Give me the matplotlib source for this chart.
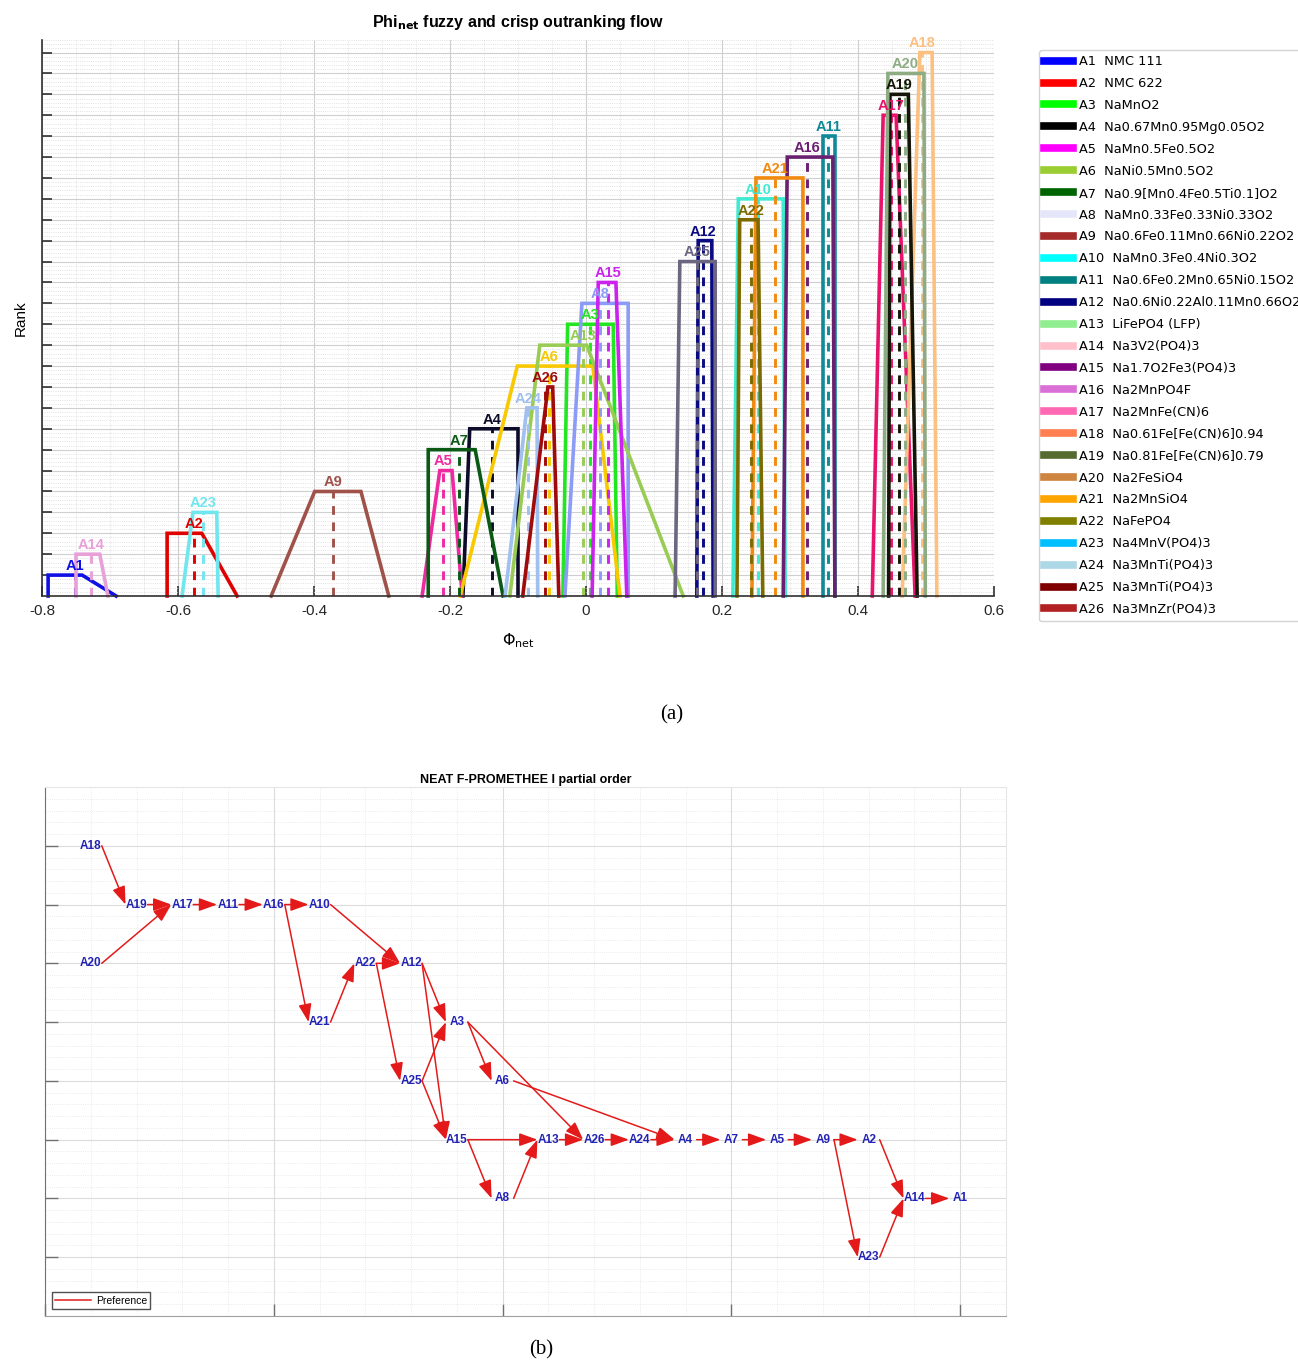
import numpy as np
import matplotlib
matplotlib.use('Agg')
import matplotlib.pyplot as plt
from matplotlib.lines import Line2D
from matplotlib.ticker import MultipleLocator

plt.rcParams['font.family'] = ['Liberation Sans', 'DejaVu Sans']

# ---- alternatives (cathode materials) ----
alternatives = ['A1', 'A2', 'A3', 'A4', 'A5', 'A6', 'A7', 'A8', 'A9', 'A10', 'A11', 'A12', 'A13',
                'A14', 'A15', 'A16', 'A17', 'A18', 'A19', 'A20', 'A21', 'A22', 'A23', 'A24', 'A25', 'A26']
materials = ['NMC 111', 'NMC 622', 'NaMnO2', 'Na0.67Mn0.95Mg0.05O2', 'NaMn0.5Fe0.5O2',
             'NaNi0.5Mn0.5O2', 'Na0.9[Mn0.4Fe0.5Ti0.1]O2', 'NaMn0.33Fe0.33Ni0.33O2',
             'Na0.6Fe0.11Mn0.66Ni0.22O2', 'NaMn0.3Fe0.4Ni0.3O2', 'Na0.6Fe0.2Mn0.65Ni0.15O2',
             'Na0.6Ni0.22Al0.11Mn0.66O2', 'LiFePO4 (LFP)', 'Na3V2(PO4)3', 'Na1.7O2Fe3(PO4)3',
             'Na2MnPO4F', 'Na2MnFe(CN)6', 'Na0.61Fe[Fe(CN)6]0.94', 'Na0.81Fe[Fe(CN)6]0.79',
             'Na2FeSiO4', 'Na2MnSiO4', 'NaFePO4', 'Na4MnV(PO4)3', 'Na3MnTi(PO4)3',
             'Na3MnTi(PO4)3', 'Na3MnZr(PO4)3']

# fuzzy net flow as trapezoid (a, b, c, d), crisp net flow, and rank
phi_a = [-0.791, -0.616, -0.034, -0.181, -0.241, -0.185, -0.232, -0.031, -0.463, 0.216, 0.349, 0.163, -0.112,
         -0.750, 0.009, 0.290, 0.421, 0.465, 0.445, 0.437, 0.244, 0.222, -0.594, -0.119, 0.131, -0.093]
phi_b = [-0.791, -0.616, -0.027, -0.171, -0.215, -0.101, -0.232, -0.006, -0.399, 0.224, 0.349, 0.165, -0.068,
         -0.750, 0.018, 0.296, 0.437, 0.491, 0.447, 0.444, 0.250, 0.226, -0.578, -0.087, 0.138, -0.056]
phi_c = [-0.741, -0.565, 0.040, -0.100, -0.197, 0.010, -0.163, 0.062, -0.331, 0.290, 0.366, 0.185, 0.001,
         -0.715, 0.044, 0.363, 0.456, 0.509, 0.474, 0.497, 0.319, 0.253, -0.543, -0.072, 0.190, -0.049]
phi_d = [-0.691, -0.513, 0.046, -0.100, -0.182, 0.050, -0.122, 0.062, -0.290, 0.293, 0.366, 0.187, 0.143,
         -0.703, 0.060, 0.366, 0.484, 0.516, 0.487, 0.499, 0.319, 0.260, -0.541, -0.071, 0.190, -0.040]
phi_crisp = [-0.751, -0.576, 0.006, -0.138, -0.210, -0.054, -0.187, 0.020, -0.372, 0.253, 0.356, 0.172, -0.004,
             -0.728, 0.032, 0.325, 0.449, 0.494, 0.460, 0.469, 0.278, 0.243, -0.563, -0.085, 0.163, -0.060]
rank = [1, 3, 13, 8, 6, 11, 7, 14, 5, 19, 22, 17, 12, 2, 15, 21, 23, 26, 24, 25, 20, 18, 4, 9, 16, 10]

x_ticks = [-0.8, -0.6, -0.4, -0.2, 0, 0.2, 0.4, 0.6]
x_tick_labels = ['-0.8', '-0.6', '-0.4', '-0.2', '0', '0.2', '0.4', '0.6']

line_colors = ['#1010e6', '#e00000', '#22e622', '#0c0c2a', '#ee2aa0', '#f8c800', '#0a5a16', '#8c9cf6',
               '#a0524a', '#40ead2', '#108a98', '#0a0a82', '#99cc55', '#e8a0d8', '#cc22ee', '#6a2070',
               '#e8146c', '#fcc080', '#141408', '#8eac84', '#f08a10', '#7a6a00', '#70e6ee', '#a0c0f0',
               '#6c6680', '#a00a0a']
legend_colors = ['blue', 'red', 'lime', 'black', 'magenta', 'yellowgreen', 'darkgreen', 'lavender',
                 'brown', 'cyan', 'teal', 'navy', 'lightgreen', 'pink', 'purple', 'orchid', 'hotpink',
                 'coral', 'darkolivegreen', 'peru', 'orange', 'olive', 'deepskyblue', 'lightblue',
                 'maroon', 'firebrick']

# ---- partial order graph ----
node_names = ['A18', 'A19', 'A17', 'A11', 'A16', 'A10', 'A20', 'A22', 'A12', 'A21', 'A3', 'A25', 'A6',
              'A15', 'A13', 'A26', 'A24', 'A4', 'A7', 'A5', 'A9', 'A2', 'A8', 'A14', 'A1', 'A23']
node_x = [1, 2, 3, 4, 5, 6, 1, 7, 8, 6, 9, 8, 10, 9, 11, 12, 13, 14, 15, 16, 17, 18, 10, 19, 20, 18]
node_level = [1, 2, 2, 2, 2, 2, 3, 3, 3, 4, 4, 5, 5, 6, 6, 6, 6, 6, 6, 6, 6, 6, 7, 7, 7, 8]
edges = [('A18', 'A19'), ('A19', 'A17'), ('A20', 'A17'), ('A17', 'A11'), ('A11', 'A16'),
         ('A16', 'A10'), ('A16', 'A21'), ('A10', 'A12'), ('A21', 'A22'), ('A22', 'A12'),
         ('A22', 'A25'), ('A12', 'A3'), ('A12', 'A15'), ('A25', 'A3'), ('A25', 'A15'),
         ('A3', 'A6'), ('A3', 'A26'), ('A6', 'A4'), ('A15', 'A13'), ('A15', 'A8'), ('A8', 'A13'),
         ('A13', 'A26'), ('A26', 'A24'), ('A24', 'A4'), ('A4', 'A7'), ('A7', 'A5'), ('A5', 'A9'),
         ('A9', 'A2'), ('A9', 'A23'), ('A2', 'A14'), ('A23', 'A14'), ('A14', 'A1')]

W, H = 1298, 1363
fig = plt.figure(figsize=(W / 100, H / 100), dpi=100)


def box(left, top, right, bottom):
    return [left / W, 1 - bottom / H, (right - left) / W, (bottom - top) / H]


# ===== (a) fuzzy and crisp outranking flow =====
ax = fig.add_axes(box(42, 40, 994, 596))
ax.set_xlim(-0.8, 0.6)
ax.set_ylim(0, 26.6)
ax.set_xticks(x_ticks)
ax.set_xticklabels(x_tick_labels)
ax.xaxis.set_minor_locator(MultipleLocator(0.05))
ax.set_yticks(np.arange(1, 27))
ax.yaxis.set_minor_locator(MultipleLocator(0.2))
ax.set_yticklabels([])
ax.grid(which='major', color='#cfcfcf', lw=0.8)
ax.grid(which='minor', color='#d8d8d8', lw=0.6, ls=':')
ax.set_axisbelow(True)
ax.tick_params(which='major', direction='in', length=7, width=1.2, colors='#303030',
               labelsize=11, pad=6, labelcolor='#262626')
ax.tick_params(which='minor', length=0)
for s in ['top', 'right']:
    ax.spines[s].set_visible(False)
for s in ['left', 'bottom']:
    ax.spines[s].set_color('#303030')
    ax.spines[s].set_linewidth(1.2)

for i, name in enumerate(alternatives):
    h = rank[i]
    col = line_colors[i]
    ax.plot([phi_a[i], phi_b[i], phi_c[i], phi_d[i]], [0, h, h, 0], color=col, lw=2.6,
            solid_joinstyle='miter', clip_on=False)
    ax.plot([phi_crisp[i], phi_crisp[i]], [0, h], color=col, lw=2.1, ls=(0, (3, 2.6)))
    ax.text(phi_crisp[i], h + 0.1, name, ha='center', va='bottom', color=col,
            fontsize=10.5, fontweight='bold')

ax.set_title('Phi$_{\\mathbf{net}}$ fuzzy and crisp outranking flow', fontsize=11.5,
             fontweight='bold', pad=9)
ax.set_xlabel('$\\Phi_{\\mathrm{net}}$', fontsize=11.5, labelpad=9)
ax.set_ylabel('Rank', fontsize=11, labelpad=4)

handles = [Line2D([], [], color=c, lw=5.5) for c in legend_colors]
labels = [f'{a}  {m}' for a, m in zip(alternatives, materials)]
fig.legend(handles, labels, loc='upper left', bbox_to_anchor=(1039 / W, 1 - 50 / H),
           prop={'family': 'DejaVu Sans', 'size': 9.3}, handlelength=2.2, handletextpad=0.5,
           labelspacing=0.69, borderpad=0.4, borderaxespad=0, frameon=True,
           edgecolor='#c8c8c8', fancybox=True)

fig.text(672 / W, 1 - 715 / H, '(a)', ha='center', va='center', fontsize=15,
         family='Liberation Serif')

# ===== (b) partial order =====
bx = fig.add_axes(box(45, 787, 1006, 1316))
bx.set_xlim(0, 21)
bx.set_ylim(9, 0)
bx.set_xticks([0, 5, 10, 15, 20])
bx.xaxis.set_minor_locator(MultipleLocator(1))
bx.set_yticks(np.arange(1, 9))
bx.yaxis.set_minor_locator(MultipleLocator(0.2))
bx.set_xticklabels([])
bx.set_yticklabels([])
bx.grid(which='major', color='#dcdcdc', lw=0.8)
bx.grid(which='minor', color='#e4e4e4', lw=0.6, ls=':')
bx.set_axisbelow(True)
bx.tick_params(which='major', direction='in', length=9, width=1.0, colors='#707070')
bx.tick_params(which='minor', length=0)
bx.spines['left'].set_color('#707070')
bx.spines['bottom'].set_color('#a0a0a0')
bx.spines['top'].set_color('#e6e6e6')
bx.spines['right'].set_color('#e6e6e6')

pos = {n: (x, lv) for n, x, lv in zip(node_names, node_x, node_level)}
for src, dst in edges:
    x0, y0 = pos[src]
    x1, y1 = pos[dst]
    bx.annotate('', xy=(x1 - 0.24, y1), xytext=(x0 + 0.24, y0),
                arrowprops=dict(arrowstyle='-|>,head_length=1.0,head_width=0.36', color='#e41a1a',
                                lw=1.1, mutation_scale=11, shrinkA=0, shrinkB=0))
for n in node_names:
    x, lv = pos[n]
    bx.text(x, lv, n, ha='center', va='center', color='#2222b4', fontsize=8.5, fontweight='bold')

bx.set_title('NEAT F-PROMETHEE I partial order', fontsize=9, fontweight='bold', pad=3)
bx.legend([Line2D([], [], color='#e41a1a', lw=1.1)], ['Preference'], loc='lower left',
          fontsize=7.5, fancybox=False, edgecolor='#505050', handlelength=3.4, borderaxespad=0.7,
          borderpad=0.3, handletextpad=0.5, framealpha=1)

fig.text(541 / W, 1 - 1350 / H, '(b)', ha='center', va='center', fontsize=15,
         family='Liberation Serif')

fig.savefig('out.png', dpi=100)
